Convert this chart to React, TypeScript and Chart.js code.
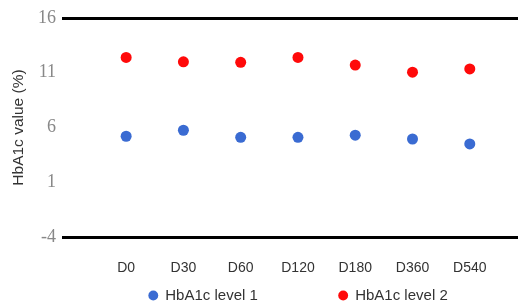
import React, { useEffect, useRef } from "react";
import { Chart, registerables } from "chart.js";

Chart.register(...registerables);

const categories = ["D0", "D30", "D60", "D120", "D180", "D360", "D540"];
const level1 = [5.2, 5.75, 5.1, 5.1, 5.3, 4.95, 4.5];
const level2 = [12.4, 12.0, 11.95, 12.4, 11.7, 11.05, 11.35];
const yTicks = [16, 11, 6, 1, -4];
const seriesNames = ["HbA1c level 1", "HbA1c level 2"];

const SANS = "'Liberation Sans', Arial, sans-serif";
const SERIF = "'Liberation Serif', 'Times New Roman', serif";

export default function App() {
  const ref = useRef<HTMLCanvasElement | null>(null);

  useEffect(() => {
    if (!ref.current) return;
    const chart = new Chart(ref.current, {
      type: "scatter",
      data: {
        datasets: [
          {
            label: seriesNames[0] + " ".repeat(17),
            data: level1.map((y, i) => ({ x: i, y })),
            backgroundColor: "#3a6bd2",
            borderColor: "#3a6bd2",
            borderWidth: 0,
            pointRadius: 5.5,
            pointStyle: "circle",
          },
          {
            label: seriesNames[1],
            data: level2.map((y, i) => ({ x: i, y })),
            backgroundColor: "#ff0a0a",
            borderColor: "#ff0a0a",
            borderWidth: 0,
            pointRadius: 5.5,
            pointStyle: "circle",
          },
        ],
      },
      options: {
        animation: false,
        responsive: true,
        maintainAspectRatio: false,
        layout: { padding: { top: 18, left: 0, right: 0, bottom: 0 } },
        plugins: {
          tooltip: { enabled: false },
          legend: {
            position: "bottom",
            fullSize: false,
            labels: {
              usePointStyle: true,
              boxWidth: 9,
              boxHeight: 7,
              padding: 10,
              color: "#333",
              font: { family: SANS, size: 15 },
            },
          },
        },
        scales: {
          x: {
            type: "linear",
            min: -1.12,
            max: 7.13,
            afterBuildTicks: (scale: any) => {
              scale.ticks = categories.map((_, i) => ({ value: i }));
            },
            afterFit: (scale: any) => {
              scale.height = 41;
            },
            grid: { display: false },
            border: { display: false },
            ticks: {
              padding: 15,
              color: "#333",
              font: { family: SANS, size: 14 },
              autoSkip: false,
              maxRotation: 0,
              callback: (v: any) => categories[v] ?? "",
            },
          },
          y: {
            min: -4,
            max: 16,
            afterBuildTicks: (scale: any) => {
              scale.ticks = yTicks.map((v) => ({ value: v }));
            },
            afterFit: (scale: any) => {
              scale.width = 62;
            },
            border: { display: false },
            grid: {
              drawTicks: false,
              lineWidth: 3,
              color: (ctx: any) =>
                ctx.tick && (ctx.tick.value === 16 || ctx.tick.value === -4)
                  ? "#000"
                  : "rgba(0,0,0,0)",
            },
            ticks: {
              padding: 6,
              color: "#888",
              font: { family: SERIF, size: 18 },
            },
            title: {
              display: true,
              text: "HbA1c value (%)",
              color: "#333",
              font: { family: SANS, size: 15.5 },
              padding: { top: 9, bottom: 0 },
            },
          },
        },
      },
    });
    return () => chart.destroy();
  }, []);

  return (
    <div
      style={{
        position: "fixed",
        left: 0,
        top: 0,
        width: 518,
        height: 303,
        overflow: "hidden",
        background: "#fff",
      }}
    >
      <div style={{ position: "relative", width: 540, height: 313 }}>
        <canvas ref={ref} />
      </div>
    </div>
  );
}
